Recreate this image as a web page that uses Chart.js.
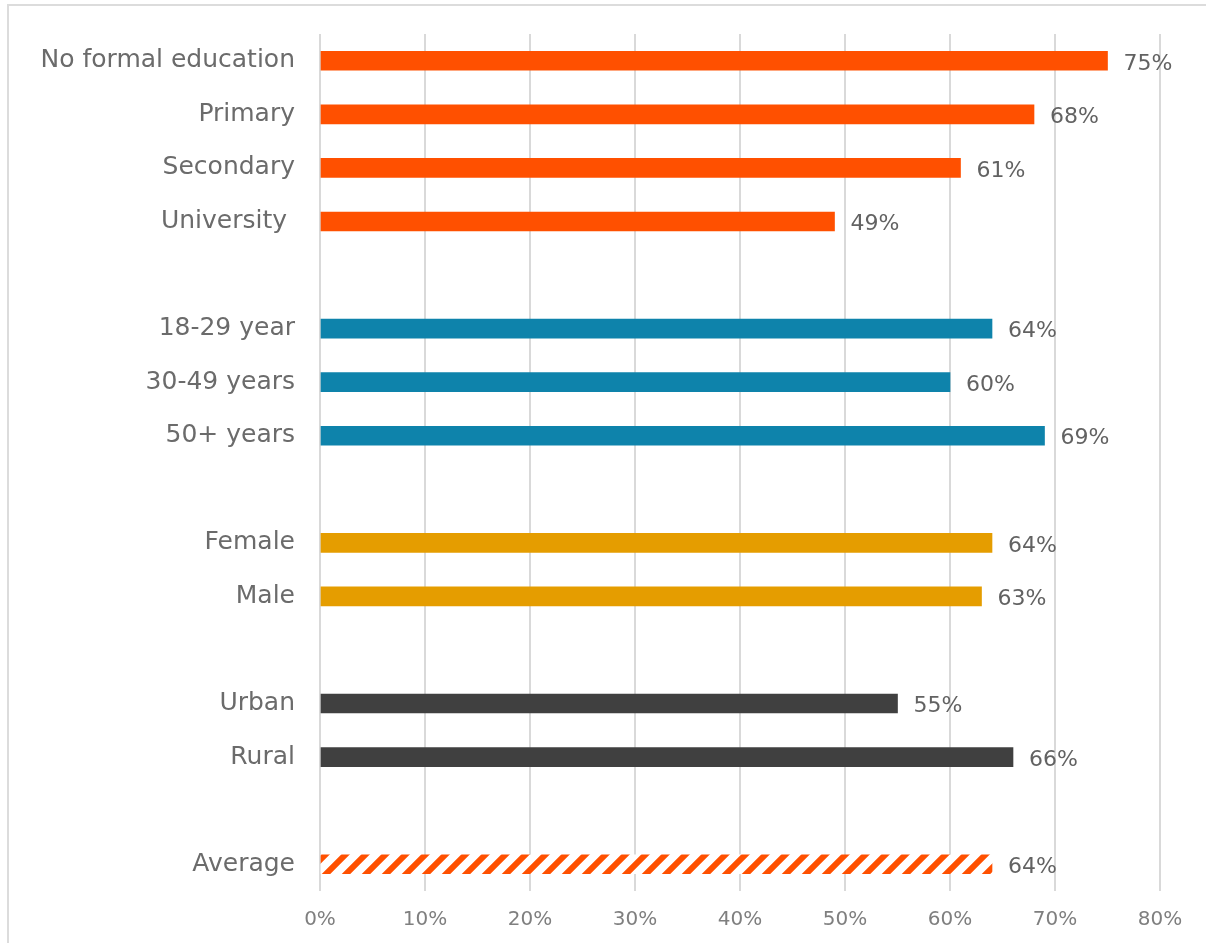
<!DOCTYPE html>
<html>
<head>
<meta charset="utf-8">
<script src="https://cdn.jsdelivr.net/npm/chart.js@4"></script>
<style>
  html, body { margin: 0; padding: 0; background: #fff; overflow: hidden; }
  #frame { position: absolute; left: 7px; top: 4px; width: 1220px; height: 960px; border: 2px solid #dcdcdc; box-sizing: border-box; }
  #chart { position: absolute; left: 0; top: 0; }
</style>
</head>
<body>
<div id="frame"></div>
<canvas id="chart" width="1206" height="943"></canvas>
<script>
// Data (blank rows are the gaps between groups)
const categories = [
    'No formal education', 'Primary', 'Secondary', 'University ', '',
    '18-29 year', '30-49 years', '50+ years', '',
    'Female', 'Male', '',
    'Urban', 'Rural', '',
    'Average'
];
const values = [75, 68, 61, 49, null, 64, 60, 69, null, 64, 63, null, 55, 66, null, 64];
const groups = ['edu', 'edu', 'edu', 'edu', null, 'age', 'age', 'age', null, 'sex', 'sex', null, 'area', 'area', null, 'avg'];
const xTicks = [0, 10, 20, 30, 40, 50, 60, 70, 80];

const ORANGE = '#ff5000';
const groupColors = { edu: ORANGE, age: '#0e83ab', sex: '#e59d00', area: '#404040' };

// Diagonal hatch for the Average bar
function hatchPattern() {
    const c = document.createElement('canvas');
    c.width = 20; c.height = 20;
    const g = c.getContext('2d');
    g.fillStyle = '#ffffff';
    g.fillRect(0, 0, 20, 20);
    g.strokeStyle = ORANGE;
    g.lineWidth = 6;
    g.beginPath();
    g.moveTo(-5, 25); g.lineTo(25, -5);
    g.moveTo(-15, 15); g.lineTo(15, -15);
    g.moveTo(5, 35); g.lineTo(35, 5);
    g.stroke();
    return g.createPattern(c, 'repeat');
}

const ctx = document.getElementById('chart').getContext('2d');
const avgPattern = hatchPattern();
const barColors = groups.map(g => g === 'avg' ? avgPattern : (groupColors[g] || 'transparent'));

// Value labels at the end of each bar
const valueLabels = {
    id: 'valueLabels',
    afterDatasetsDraw(chart) {
        const c = chart.ctx;
        const meta = chart.getDatasetMeta(0);
        c.save();
        c.font = '22px "DejaVu Sans"';
        c.fillStyle = '#626262';
        c.textAlign = 'left';
        c.textBaseline = 'middle';
        meta.data.forEach((bar, i) => {
            if (values[i] == null) return;
            c.fillText(values[i] + '%', bar.x + 16, bar.y + 3);
        });
        c.restore();
    }
};

new Chart(ctx, {
    type: 'bar',
    data: {
        labels: categories,
        datasets: [{
            data: values,
            backgroundColor: barColors,
            barThickness: 19,
            borderWidth: 0
        }]
    },
    options: {
        indexAxis: 'y',
        responsive: false,
        animation: false,
        layout: { padding: { top: 34, right: 46, bottom: 0, left: 0 } },
        plugins: {
            legend: { display: false },
            tooltip: { enabled: false }
        },
        scales: {
            x: {
                min: 0,
                max: 80,
                afterBuildTicks: (scale) => { scale.ticks = xTicks.map(v => ({ value: v })); },
                afterFit: (scale) => { scale.height = 52; },
                grid: { color: '#d9d9d9', lineWidth: 2, drawTicks: false },
                border: { display: false },
                ticks: {
                    padding: 17,
                    color: '#7f7f7f',
                    font: { family: 'DejaVu Sans', size: 20 },
                    callback: (v) => v + '%'
                }
            },
            y: {
                afterFit: (scale) => {
                    scale.width = 320;
                    scale.paddingTop = 0;
                    scale.paddingBottom = 0;
                },
                grid: { display: false, drawTicks: false },
                border: { display: false },
                ticks: {
                    padding: 25,
                    autoSkip: false,
                    color: '#6b6b6b',
                    font: { family: 'DejaVu Sans', size: 25 }
                }
            }
        }
    },
    plugins: [valueLabels]
});
</script>
</body>
</html>
